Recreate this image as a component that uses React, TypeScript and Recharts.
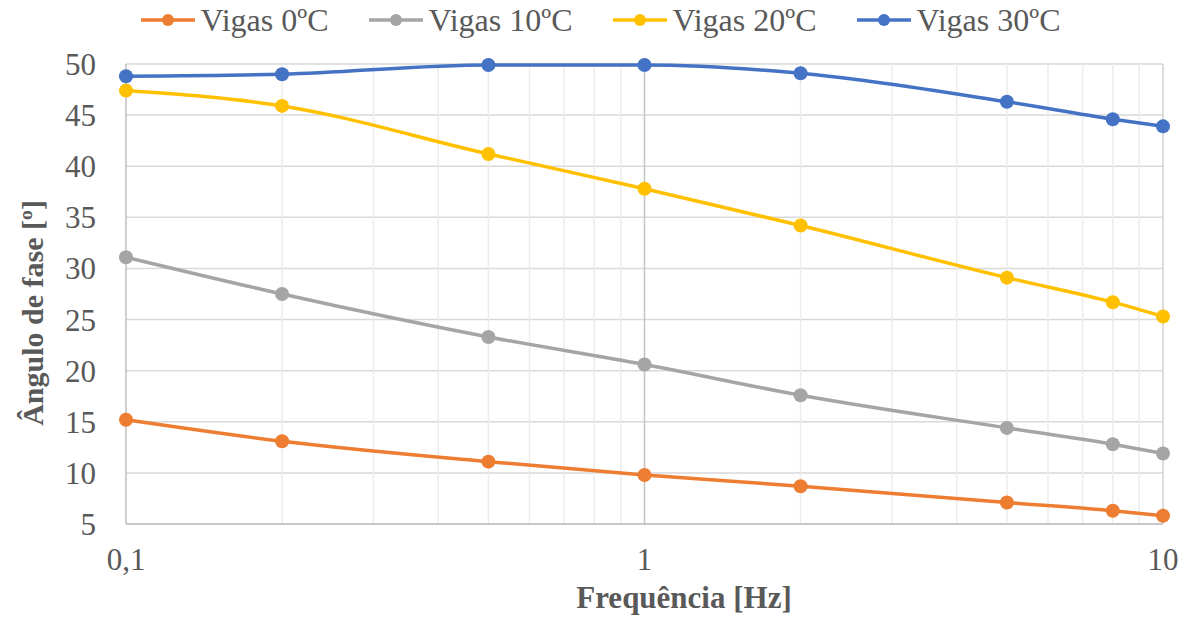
import React from "react";
import {
  LineChart,
  Line,
  XAxis,
  YAxis,
  CartesianGrid,
  ReferenceLine,
  Legend,
} from "recharts";

// frequencies in Hz (log axis)
const frequencies = [0.1, 0.2, 0.5, 1, 2, 5, 8, 10];

const vigas0 = [15.2, 13.1, 11.1, 9.8, 8.7, 7.1, 6.3, 5.8];
const vigas10 = [31.1, 27.5, 23.3, 20.6, 17.6, 14.4, 12.8, 11.9];
const vigas20 = [47.4, 45.9, 41.2, 37.8, 34.2, 29.1, 26.7, 25.3];
const vigas30 = [48.8, 49.0, 49.9, 49.9, 49.1, 46.3, 44.6, 43.9];

const xTicks = [0.1, 1, 10];
const xMinorTicks = [0.2, 0.3, 0.4, 0.5, 0.6, 0.7, 0.8, 0.9, 2, 3, 4, 5, 6, 7, 8, 9];
const yTicks = [5, 10, 15, 20, 25, 30, 35, 40, 45, 50];

const series = [
  { key: "v0", name: "Vigas 0ºC", color: "#ED7D31", values: vigas0 },
  { key: "v10", name: "Vigas 10ºC", color: "#A5A5A5", values: vigas10 },
  { key: "v20", name: "Vigas 20ºC", color: "#FFC000", values: vigas20 },
  { key: "v30", name: "Vigas 30ºC", color: "#4472C4", values: vigas30 },
];

const data = frequencies.map((f, i) => {
  const row: Record<string, number> = { f };
  series.forEach((s) => {
    row[s.key] = s.values[i];
  });
  return row;
});

const FONT = '"Liberation Serif", "Times New Roman", serif';
const TEXT = "#595959";

function LegendContent() {
  return (
    <div
      style={{
        display: "flex",
        justifyContent: "center",
        gap: 40,
        fontFamily: FONT,
        fontSize: 32,
        lineHeight: "40px",
        color: TEXT,
        paddingLeft: 38,
      }}
    >
      {series.map((s) => (
        <span key={s.key} style={{ display: "flex", alignItems: "center", gap: 6 }}>
          <svg width={54} height={20}>
            <line x1={0} y1={10} x2={54} y2={10} stroke={s.color} strokeWidth={3.5} />
            <circle cx={27} cy={10} r={6} fill={s.color} />
          </svg>
          {s.name}
        </span>
      ))}
    </div>
  );
}

const YTitle = (props: any) => {
  const { viewBox } = props;
  const cx = 32;
  const cy = viewBox.y + viewBox.height / 2 + 19;
  return (
    <text
      x={cx}
      y={cy}
      transform={`rotate(-90 ${cx} ${cy})`}
      textAnchor="middle"
      dominantBaseline="central"
      fontFamily={FONT}
      fontSize={30}
      fontWeight="bold"
      fill={TEXT}
    >
      Ângulo de fase [º]
    </text>
  );
};

const XTitle = (props: any) => {
  const { viewBox } = props;
  return (
    <text
      x={684}
      y={viewBox.y + 84}
      textAnchor="middle"
      fontFamily={FONT}
      fontSize={31}
      fontWeight="bold"
      fill={TEXT}
    >
      Frequência [Hz]
    </text>
  );
};

export default function App() {
  return (
    <div style={{ position: "absolute", left: 0, top: 0 }}>
      <style>{`body{margin:0}`}</style>
      <LineChart
        width={1189}
        height={617}
        data={data}
        margin={{ top: 0, right: 26, left: 0, bottom: 0 }}
      >
        <CartesianGrid horizontal vertical={false} stroke="#d9d9d9" strokeWidth={1.5} />
        {xMinorTicks.map((t) => (
          <ReferenceLine key={t} x={t} stroke="#ececec" strokeWidth={1.5} />
        ))}
        <ReferenceLine x={1} stroke="#c4c4c4" strokeWidth={1.5} />
        <ReferenceLine x={10} stroke="#d0d0d0" strokeWidth={1.5} />
        <XAxis
          dataKey="f"
          type="number"
          scale="log"
          domain={[0.1, 10]}
          ticks={xTicks}
          tickFormatter={(v: number) => String(v).replace(".", ",")}
          tick={{ fontFamily: FONT, fontSize: 31, fill: TEXT }}
          tickLine={false}
          tickMargin={18}
          axisLine={{ stroke: "#bfbfbf", strokeWidth: 1.5 }}
          height={93}
          label={<XTitle />}
        />
        <YAxis
          type="number"
          domain={[5, 50]}
          ticks={yTicks}
          tick={{ fontFamily: FONT, fontSize: 31, fill: TEXT }}
          tickLine={false}
          tickMargin={24}
          axisLine={{ stroke: "#bfbfbf", strokeWidth: 1.5 }}
          width={126}
          label={<YTitle />}
        />
        <Legend verticalAlign="top" height={64} content={<LegendContent />} />
        {series.map((s) => (
          <Line
            key={s.key}
            dataKey={s.key}
            name={s.name}
            type="monotone"
            stroke={s.color}
            strokeWidth={3.5}
            dot={{ r: 7, fill: s.color, stroke: s.color, strokeWidth: 0 }}
            activeDot={false}
            isAnimationActive={false}
          />
        ))}
      </LineChart>
    </div>
  );
}
